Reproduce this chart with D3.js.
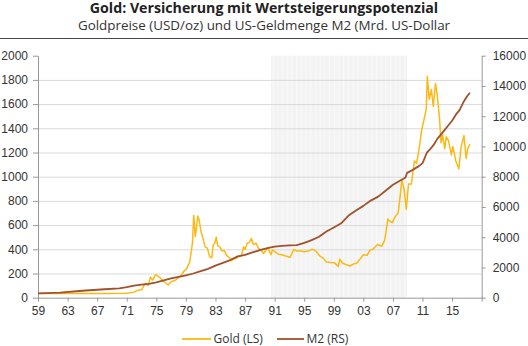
<!DOCTYPE html>
<html>
<head>
<meta charset="utf-8">
<script src="https://d3js.org/d3.v7.min.js"></script>
<style>
    body { margin: 0; background: #fff; }
    svg { display: block; font-family: "Open Sans", "Noto Sans", sans-serif; }
    .axis text { font-size: 12px; fill: #333; }
    .axis path, .axis line { stroke: #999; }
    .grid line { stroke: #d9d9d9; }
    .grid path { display: none; }
</style>
</head>
<body>
<script>
    // Gold price (USD/oz), [year, value]
    var gold = [
        [1959.0, 35], [1968.0, 35], [1970.9, 37], [1971.5, 41], [1972.0, 46], [1972.5, 62],
        [1973.0, 65], [1973.5, 120], [1973.9, 100], [1974.2, 170], [1974.5, 145], [1974.9, 190],
        [1975.5, 165], [1975.9, 140], [1976.6, 105], [1977.0, 132], [1977.6, 145], [1977.9, 162],
        [1978.3, 178], [1978.8, 225], [1979.0, 230], [1979.5, 290], [1979.75, 390], [1979.9, 460],
        [1980.05, 680], [1980.15, 620], [1980.25, 505], [1980.4, 560], [1980.6, 675], [1980.8, 640],
        [1981.0, 560], [1981.3, 490], [1981.6, 420], [1981.9, 410], [1982.2, 340], [1982.5, 330],
        [1982.7, 440], [1982.9, 450], [1983.1, 500], [1983.3, 430], [1983.6, 420], [1983.9, 385],
        [1984.2, 390], [1984.5, 350], [1984.9, 330], [1985.1, 305], [1985.5, 320], [1985.8, 325],
        [1986.1, 340], [1986.5, 345], [1986.8, 420], [1987.0, 400], [1987.3, 450], [1987.6, 460],
        [1987.85, 490], [1988.1, 440], [1988.5, 450], [1988.8, 410], [1989.2, 390], [1989.5, 365],
        [1989.9, 400], [1990.1, 410], [1990.5, 355], [1990.7, 395], [1991.0, 380], [1991.5, 360],
        [1992.0, 355], [1992.5, 345], [1993.1, 335], [1993.6, 400], [1994.0, 385], [1994.5, 385],
        [1995.0, 380], [1995.5, 385], [1996.1, 400], [1996.6, 385], [1997.1, 345], [1997.6, 325],
        [1998.0, 295], [1998.6, 290], [1999.1, 288], [1999.6, 258], [1999.8, 318], [2000.2, 285],
        [2000.6, 275], [2001.2, 262], [2001.7, 280], [2002.1, 285], [2002.5, 315], [2003.0, 355],
        [2003.5, 350], [2003.9, 395], [2004.3, 400], [2004.9, 440], [2005.5, 425], [2005.9, 480],
        [2006.3, 650], [2006.6, 630], [2006.9, 620], [2007.3, 670], [2007.7, 700], [2007.9, 800],
        [2008.2, 970], [2008.5, 900], [2008.8, 730], [2009.1, 940], [2009.5, 940], [2009.9, 1130],
        [2010.2, 1110], [2010.5, 1220], [2010.9, 1390], [2011.3, 1500], [2011.5, 1560], [2011.65, 1830],
        [2011.9, 1640], [2012.2, 1720], [2012.45, 1580], [2012.75, 1770], [2013.0, 1670], [2013.3, 1480],
        [2013.5, 1280], [2013.7, 1350], [2014.0, 1230], [2014.2, 1330], [2014.5, 1300], [2014.9, 1180],
        [2015.1, 1250], [2015.5, 1130], [2015.9, 1065], [2016.2, 1240], [2016.6, 1340], [2016.9, 1150],
        [2017.1, 1230], [2017.4, 1268]
    ];

    // US money supply M2 (bn USD), [year, value]
    var m2 = [
        [1959.0, 290], [1960.0, 300], [1962.0, 340], [1965.0, 460], [1968.0, 560], [1970.0, 620],
        [1971.0, 700], [1972.0, 800], [1973.0, 860], [1974.0, 910], [1975.0, 1020], [1976.0, 1150],
        [1977.0, 1270], [1978.0, 1370], [1979.0, 1480], [1980.0, 1600], [1981.0, 1760], [1982.0, 1910],
        [1983.0, 2120], [1984.0, 2300], [1985.0, 2490], [1986.0, 2730], [1987.0, 2830], [1988.0, 2990],
        [1989.0, 3150], [1990.0, 3270], [1991.0, 3370], [1992.0, 3420], [1993.0, 3460], [1994.0, 3480],
        [1995.0, 3620], [1996.0, 3810], [1997.0, 4030], [1998.0, 4380], [1999.0, 4640], [2000.0, 4920],
        [2001.0, 5430], [2002.0, 5770], [2003.0, 6070], [2004.0, 6420], [2005.0, 6680], [2006.0, 7070],
        [2007.0, 7470], [2008.0, 7750], [2008.7, 7950], [2008.9, 8250], [2009.5, 8400], [2010.0, 8550],
        [2010.5, 8700], [2011.0, 8900], [2011.6, 9600], [2012.0, 9800], [2012.5, 10100], [2013.0, 10500],
        [2013.5, 10800], [2014.0, 11100], [2014.5, 11400], [2015.0, 11700], [2015.5, 12100], [2016.0, 12400],
        [2016.5, 12900], [2017.0, 13300], [2017.4, 13550]
    ];

    var xTicks = d3.range(1959, 2016, 4);
    var leftTicks = d3.range(0, 2001, 200);
    var rightTicks = d3.range(0, 16001, 2000);
    var band = [1990.5, 2008.9];

    var W = 528, H = 346;
    var pLeft = 38, pRight = 481.7, pTop = 55.7, pBottom = 297.7;

    var x = d3.scaleLinear().domain([1959, 2019]).range([pLeft, pRight]);
    var yL = d3.scaleLinear().domain([0, 2000]).range([pBottom, pTop]);
    var yR = d3.scaleLinear().domain([0, 16000]).range([pBottom, pTop]);

    var svg = d3.select("body").append("svg")
        .attr("width", W)
        .attr("height", H);

    // striped pattern for the shaded period
    var pat = svg.append("defs").append("pattern")
        .attr("id", "stripes")
        .attr("patternUnits", "userSpaceOnUse")
        .attr("width", 4.7).attr("height", 10);
    pat.append("rect").attr("width", 4.7).attr("height", 10).attr("fill", "#f3f3f3");
    pat.append("rect").attr("width", 1.2).attr("height", 10).attr("fill", "#f9f9f9");

    // titles
    svg.append("text")
        .attr("x", W / 2).attr("y", 12.6)
        .attr("text-anchor", "middle")
        .style("font-size", "14.2px").style("font-weight", "bold").style("fill", "#222")
        .text("Gold: Versicherung mit Wertsteigerungspotenzial");
    svg.append("text")
        .attr("x", W / 2).attr("y", 29.5)
        .attr("text-anchor", "middle")
        .style("font-size", "13.4px").style("fill", "#333")
        .text("Goldpreise (USD/oz) und US-Geldmenge M2 (Mrd. US-Dollar");
    svg.append("line")
        .attr("x1", 0).attr("x2", W).attr("y1", 38.5).attr("y2", 38.5)
        .attr("stroke", "#444").attr("stroke-width", 1);

    // shaded period
    svg.append("rect")
        .attr("x", x(band[0])).attr("y", pTop)
        .attr("width", x(band[1]) - x(band[0]))
        .attr("height", pBottom - pTop)
        .attr("fill", "url(#stripes)");

    // gridlines
    svg.append("g")
        .attr("class", "grid")
        .attr("transform", "translate(" + pLeft + ",0)")
        .call(d3.axisRight(yL).tickValues(leftTicks.slice(1, -1)).tickSize(pRight - pLeft).tickFormat(""));

    // axes
    svg.append("g")
        .attr("class", "axis")
        .attr("transform", "translate(" + pLeft + ",0)")
        .call(d3.axisLeft(yL).tickValues(leftTicks).tickSizeInner(5).tickSizeOuter(0).tickPadding(5)
            .tickFormat(d3.format("d")));

    svg.append("g")
        .attr("class", "axis")
        .attr("transform", "translate(" + pRight + ",0)")
        .call(d3.axisRight(yR).tickValues(rightTicks).tickSizeInner(4).tickSizeOuter(0).tickPadding(7)
            .tickFormat(d3.format("d")));

    svg.append("g")
        .attr("class", "axis")
        .attr("transform", "translate(0," + pBottom + ")")
        .call(d3.axisBottom(x).tickValues(xTicks.concat([2019])).tickSizeInner(4).tickSizeOuter(0).tickPadding(5)
            .tickFormat(function (d) { return d === 2019 ? "" : d3.format("02d")(d % 100); }));

    svg.selectAll(".axis .domain").attr("stroke", "#999");

    // lines
    var lineL = d3.line().x(function (d) { return x(d[0]); }).y(function (d) { return yL(d[1]); });
    var lineR = d3.line().x(function (d) { return x(d[0]); }).y(function (d) { return yR(d[1]); });

    svg.append("path")
        .datum(gold)
        .attr("fill", "none")
        .attr("stroke", "#FDB913")
        .attr("stroke-width", 1.5)
        .attr("stroke-linejoin", "round")
        .attr("d", lineL);

    svg.append("path")
        .datum(m2)
        .attr("fill", "none")
        .attr("stroke", "#A0522D")
        .attr("stroke-width", 1.8)
        .attr("stroke-linejoin", "round")
        .attr("d", lineR);

    // legend
    var legend = [
        { name: "Gold (LS)", color: "#FDB913", x: 182, len: 29 },
        { name: "M2 (RS)", color: "#A0522D", x: 277, len: 27 }
    ];
    var lg = svg.append("g").selectAll("g").data(legend).enter().append("g")
        .attr("transform", function (d) { return "translate(" + d.x + ",339)"; });
    lg.append("line")
        .attr("x1", 0).attr("x2", function (d) { return d.len; })
        .attr("stroke", function (d) { return d.color; })
        .attr("stroke-width", 1.8);
    lg.append("text")
        .attr("x", function (d) { return d.len + 2.5; }).attr("dy", "0.35em")
        .style("font-size", "12px").style("fill", "#333")
        .text(function (d) { return d.name; });
</script>
</body>
</html>
